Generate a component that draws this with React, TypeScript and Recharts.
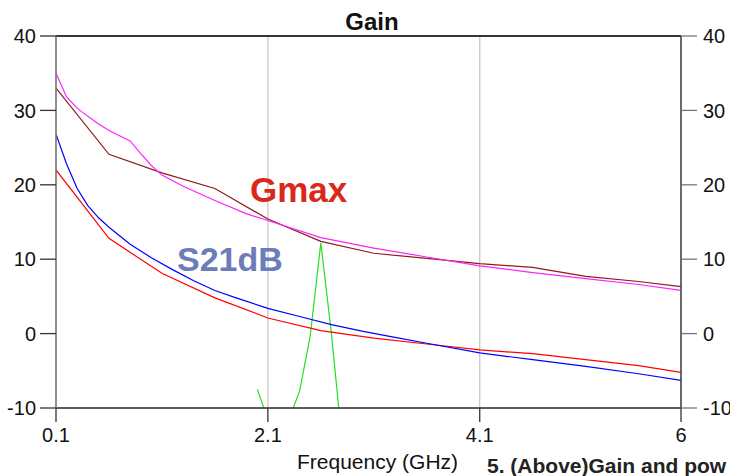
import React from 'react'
import { LineChart, Line, XAxis, YAxis, CartesianGrid, ReferenceLine } from 'recharts'

// frequencies in GHz, gains in dB
const coarseFreq = [0.1, 0.6, 1.1, 1.6, 2.1, 2.6, 3.1, 3.6, 4.1, 4.6, 5.1, 5.6, 6.0]
const s21Red = [22.0, 12.8, 8.1, 4.8, 2.1, 0.4, -0.6, -1.4, -2.2, -2.7, -3.5, -4.3, -5.2]
const gmaxBrown = [33.0, 24.1, 21.6, 19.5, 15.4, 12.4, 10.8, 10.1, 9.4, 8.9, 7.7, 7.0, 6.3]

const blueFreq = [0.1, 0.2, 0.3, 0.4, 0.5, 0.6, 0.8, 1.0, 1.2, 1.4, 1.6, 1.8, 2.1, 2.4, 2.7, 3.0, 3.3, 3.6, 4.1, 4.6, 5.1, 5.6, 6.0]
const s21Blue = [26.8, 22.8, 19.5, 17.2, 15.6, 14.3, 12.0, 10.2, 8.6, 7.1, 5.8, 4.8, 3.4, 2.3, 1.2, 0.3, -0.5, -1.3, -2.6, -3.5, -4.4, -5.4, -6.3]

const magentaFreq = [0.1, 0.2, 0.3, 0.4, 0.5, 0.6, 0.7, 0.8, 0.9, 1.0, 1.1, 1.3, 1.6, 1.9, 2.1, 2.6, 3.1, 3.6, 4.1, 4.6, 5.1, 5.6, 6.0]
const gmaxMagenta = [35.0, 31.8, 30.3, 29.2, 28.2, 27.3, 26.6, 25.9, 24.2, 22.6, 21.3, 19.8, 17.9, 16.1, 15.2, 12.9, 11.5, 10.3, 9.1, 8.2, 7.4, 6.6, 5.8]

const greenFreq = [2.0, 2.1, 2.2, 2.3, 2.4, 2.5, 2.6, 2.7, 2.8]
const greenVals = [-7.5, -11.5, -15, -11.5, -7.7, -0.3, 12.2, 0.0, -14.5]

const xTicks = [0.1, 2.1, 4.1, 6]
const yTicks = [-10, 0, 10, 20, 30, 40]

const toRows = (xs: number[], ys: number[]) => xs.map((f, i) => ({ f, v: ys[i] }))

const font = '"Liberation Sans", Arial, sans-serif'

export default function App() {
  const tick = { fontSize: 20, fill: '#111', fontFamily: font }
  return (
    <div style={{ position: 'absolute', left: 0, top: 0, width: 730, height: 476, background: '#fff' }}>
      <LineChart width={730} height={476} margin={{ top: 36, right: 0, bottom: 0, left: 0 }}>
        <CartesianGrid stroke="#c8c8c8" strokeWidth={1.3} />
        <XAxis
          type="number"
          dataKey="f"
          domain={[0.1, 6]}
          ticks={xTicks}
          allowDataOverflow
          height={68}
          tickSize={14}
          tickMargin={6}
          tick={tick}
          axisLine={{ stroke: '#333', strokeWidth: 1.5 }}
          tickLine={{ stroke: '#333', strokeWidth: 1.3 }}
        />
        <YAxis
          yAxisId="left"
          type="number"
          domain={[-10, 40]}
          ticks={yTicks}
          allowDataOverflow
          width={56}
          tickSize={16}
          tickMargin={4}
          tick={tick}
          axisLine={{ stroke: '#777', strokeWidth: 1.5 }}
          tickLine={{ stroke: '#333', strokeWidth: 1.3 }}
        />
        <YAxis
          yAxisId="right"
          orientation="right"
          type="number"
          domain={[-10, 40]}
          ticks={yTicks}
          allowDataOverflow
          width={49}
          tickSize={16}
          tickMargin={6}
          tick={tick}
          axisLine={{ stroke: '#444', strokeWidth: 1.5 }}
          tickLine={{ stroke: '#777', strokeWidth: 1.3 }}
        />
        <ReferenceLine yAxisId="left" y={40} stroke="#000" strokeWidth={1.5} />
        <Line yAxisId="left" data={toRows(greenFreq, greenVals)} dataKey="v" stroke="#22e022" strokeWidth={1.2} dot={false} isAnimationActive={false} />
        {/* same scale on both sides; hooking Gmax to the right axis makes it render */}
        <Line yAxisId="right" data={toRows(coarseFreq, gmaxBrown)} dataKey="v" stroke="#8b1c1c" strokeWidth={1.2} dot={false} isAnimationActive={false} />
        <Line yAxisId="left" data={toRows(magentaFreq, gmaxMagenta)} dataKey="v" stroke="#ff22ff" strokeWidth={1.2} dot={false} isAnimationActive={false} />
        <Line yAxisId="left" data={toRows(coarseFreq, s21Red)} dataKey="v" stroke="#ff0000" strokeWidth={1.2} dot={false} isAnimationActive={false} />
        <Line yAxisId="left" data={toRows(blueFreq, s21Blue)} dataKey="v" stroke="#0000ff" strokeWidth={1.2} dot={false} isAnimationActive={false} />
      </LineChart>
      <svg width={730} height={476} style={{ position: 'absolute', left: 0, top: 0, pointerEvents: 'none' }}>
        <text x={372} y={30} textAnchor="middle" fontFamily={font} fontWeight="bold" fontSize={24} fill="#111">Gain</text>
        <text x={250} y={202} fontFamily={font} fontWeight="bold" fontSize={35} fill="#d9281c">Gmax</text>
        <text x={177} y={271} fontFamily={font} fontWeight="bold" fontSize={34} fill="#6a7db9">S21dB</text>
        <text x={297} y={469} fontFamily={font} fontSize={21} fill="#111">Frequency (GHz)</text>
        <text x={487} y={473} fontFamily={font} fontWeight="bold" fontSize={21} fill="#222">5. (Above)Gain and pow</text>
      </svg>
    </div>
  )
}
